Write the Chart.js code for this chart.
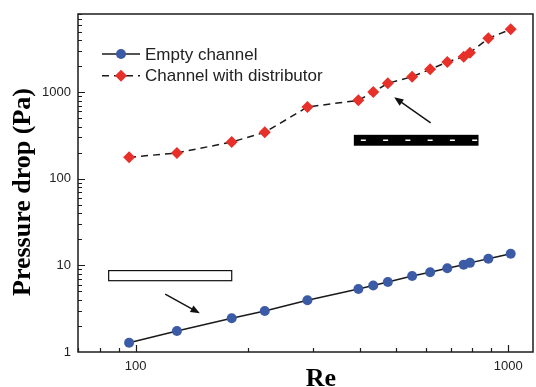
<!DOCTYPE html>
<html>
<head>
<meta charset="utf-8">
<script src="https://cdn.jsdelivr.net/npm/chart.js@4.4.1/dist/chart.umd.min.js"></script>
<style>
  html, body { margin: 0; padding: 0; background: #fff; }
</style>
</head>
<body>
<canvas id="pressureChart" width="536" height="387"></canvas>
<script>
// values
const reynolds = [96, 129, 181, 222, 289, 396, 434, 475, 552, 617, 686, 759, 789, 884, 1015];
const emptyChannel = [1.28, 1.75, 2.45, 2.97, 3.95, 5.34, 5.86, 6.43, 7.54, 8.32, 9.26, 10.2, 10.7, 11.95, 13.65];
const withDistributor = [177, 199, 266, 344, 675, 806, 1005, 1267, 1510, 1838, 2233, 2570, 2857, 4190, 5325];
const seriesNames = ['Empty channel', 'Channel with distributor'];
const xTicks = [100, 1000];
const yTicks = [1, 10, 100, 1000];

// channel sketches + arrows, in data coordinates
const hollowBox = { x: [84.6, 181], y: [6.66, 8.71] };
const solidBox = { x: [385, 832], y: [241, 322] };
const lowerArrow = { from: [120, 4.67], to: [148.6, 2.8] };
const upperArrow = { from: [619, 443], to: [494, 874] };

const AXIS = '#1c1c1c';

function drawArrow(ctx, x1, y1, x2, y2) {
    const ang = Math.atan2(y2 - y1, x2 - x1);
    ctx.beginPath();
    ctx.moveTo(x1, y1);
    ctx.lineTo(x2 - 5 * Math.cos(ang), y2 - 5 * Math.sin(ang));
    ctx.stroke();
    ctx.beginPath();
    ctx.moveTo(x2, y2);
    ctx.lineTo(x2 - 10 * Math.cos(ang - 0.38), y2 - 10 * Math.sin(ang - 0.38));
    ctx.lineTo(x2 - 10 * Math.cos(ang + 0.38), y2 - 10 * Math.sin(ang + 0.38));
    ctx.closePath();
    ctx.fill();
}

const decorations = {
    id: 'decorations',
    afterDraw(chart) {
        const ctx = chart.ctx;
        const area = chart.chartArea;
        const xs = chart.scales.x, ys = chart.scales.y;
        ctx.save();

        // frame
        ctx.strokeStyle = AXIS;
        ctx.lineWidth = 1.5;
        ctx.strokeRect(area.left, area.top, area.right - area.left, area.bottom - area.top);

        // inward ticks
        ctx.lineWidth = 1.2;
        ctx.beginPath();
        for (let d = 10; d <= 1000; d *= 10) {
            for (let m = 1; m <= 9; m++) {
                const v = d * m;
                if (v < xs.min || v > xs.max) continue;
                const px = Math.round(xs.getPixelForValue(v)) + 0.5;
                const len = m === 1 ? 7 : 4;
                ctx.moveTo(px, area.bottom);
                ctx.lineTo(px, area.bottom - len);
            }
        }
        for (let d = 1; d <= 1000; d *= 10) {
            for (let m = 1; m <= 9; m++) {
                const v = d * m;
                if (v <= ys.min || v > ys.max) continue;
                const py = Math.round(ys.getPixelForValue(v)) + 0.5;
                const len = m === 1 ? 7 : 4;
                ctx.moveTo(area.left, py);
                ctx.lineTo(area.left + len, py);
            }
        }
        ctx.stroke();

        // hollow rectangle (empty channel)
        ctx.lineWidth = 1.2;
        ctx.strokeStyle = '#111';
        let l = xs.getPixelForValue(hollowBox.x[0]), r = xs.getPixelForValue(hollowBox.x[1]);
        let t = ys.getPixelForValue(hollowBox.y[1]), b = ys.getPixelForValue(hollowBox.y[0]);
        ctx.fillStyle = '#fff';
        ctx.fillRect(l, t, r - l, b - t);
        ctx.strokeRect(l, t, r - l, b - t);

        // black rectangle with white dashes (channel with distributor)
        l = xs.getPixelForValue(solidBox.x[0]); r = xs.getPixelForValue(solidBox.x[1]);
        t = ys.getPixelForValue(solidBox.y[1]); b = ys.getPixelForValue(solidBox.y[0]);
        ctx.fillStyle = '#000';
        ctx.fillRect(l, t, r - l, b - t);
        ctx.strokeStyle = '#fff';
        ctx.lineWidth = 1.5;
        ctx.beginPath();
        const midY = (t + b) / 2;
        const step = (r - l) / 5.6;
        for (let i = 0; i < 6; i++) {
            const sx = l + 7 + i * step;
            ctx.moveTo(sx, midY);
            ctx.lineTo(Math.min(sx + 5, r - 1), midY);
        }
        ctx.stroke();

        // arrows
        ctx.strokeStyle = '#111';
        ctx.fillStyle = '#111';
        ctx.lineWidth = 1.4;
        [lowerArrow, upperArrow].forEach(a => {
            drawArrow(ctx,
                xs.getPixelForValue(a.from[0]), ys.getPixelForValue(a.from[1]),
                xs.getPixelForValue(a.to[0]), ys.getPixelForValue(a.to[1]));
        });

        // legend
        ctx.font = '17px "Liberation Sans", Arial, sans-serif';
        ctx.textBaseline = 'middle';
        chart.data.datasets.forEach((ds, i) => {
            const y = 54 + i * 21.7;
            ctx.strokeStyle = ds.borderColor;
            ctx.lineWidth = 1.5;
            ctx.setLineDash(ds.borderDash || []);
            ctx.beginPath();
            ctx.moveTo(102, y);
            ctx.lineTo(140, y);
            ctx.stroke();
            ctx.setLineDash([]);
            ctx.fillStyle = ds.pointBackgroundColor;
            ctx.beginPath();
            if (ds.pointStyle === 'rectRot') {
                const rr = ds.pointRadius;
                ctx.moveTo(121 - rr, y); ctx.lineTo(121, y - rr);
                ctx.lineTo(121 + rr, y); ctx.lineTo(121, y + rr);
                ctx.closePath();
            } else {
                ctx.arc(121, y, ds.pointRadius, 0, Math.PI * 2);
            }
            ctx.fill();
            ctx.fillStyle = '#222';
            ctx.fillText(ds.label, 145, y + 1);
        });

        // axis titles
        ctx.fillStyle = '#000';
        ctx.font = 'bold 26px "Liberation Serif", "Times New Roman", serif';
        ctx.textAlign = 'center';
        ctx.textBaseline = 'alphabetic';
        ctx.fillText('Re', 321, 386);
        ctx.translate(30, 192);
        ctx.rotate(-Math.PI / 2);
        ctx.fillText('Pressure drop (Pa)', 0, 0);

        ctx.restore();
    }
};

const ctx = document.getElementById('pressureChart').getContext('2d');
const chart = new Chart(ctx, {
    type: 'line',
    data: {
        datasets: [{
            label: seriesNames[0],
            data: reynolds.map((re, i) => ({ x: re, y: emptyChannel[i] })),
            borderColor: '#1a1a1a',
            borderWidth: 1.5,
            pointStyle: 'circle',
            pointRadius: 5,
            pointBorderWidth: 0,
            pointBackgroundColor: '#3b5ba6',
            tension: 0
        }, {
            label: seriesNames[1],
            data: reynolds.map((re, i) => ({ x: re, y: withDistributor[i] })),
            borderColor: '#1a1a1a',
            borderWidth: 1.5,
            borderDash: [7, 5],
            pointStyle: 'rectRot',
            pointRadius: 6,
            pointBorderWidth: 0,
            pointBackgroundColor: '#e8302a',
            tension: 0
        }]
    },
    options: {
        responsive: false,
        animation: false,
        layout: {
            autoPadding: false,
            padding: { top: 14, right: 3, left: 0, bottom: 0 }
        },
        plugins: {
            legend: { display: false },
            tooltip: { enabled: false }
        },
        scales: {
            x: {
                type: 'logarithmic',
                min: 70,
                max: 1165,
                grid: { display: false, drawTicks: false },
                border: { display: false },
                afterBuildTicks: scale => { scale.ticks = xTicks.map(v => ({ value: v })); },
                afterFit: scale => {
                    scale.height = 35;
                    scale.paddingLeft = 0;
                    scale.paddingRight = 0;
                },
                ticks: {
                    padding: 7,
                    color: '#222',
                    maxRotation: 0,
                    font: { family: '"Liberation Sans", Arial', size: 13 },
                    callback: value => String(value)
                }
            },
            y: {
                type: 'logarithmic',
                min: 1,
                max: 8000,
                grid: { display: false, drawTicks: false },
                border: { display: false },
                afterBuildTicks: scale => { scale.ticks = yTicks.map(v => ({ value: v })); },
                afterFit: scale => {
                    scale.width = 78;
                    scale.paddingTop = 0;
                    scale.paddingBottom = 0;
                },
                ticks: {
                    padding: 7,
                    color: '#222',
                    font: { family: '"Liberation Sans", Arial', size: 13 },
                    callback: value => String(value)
                }
            }
        }
    },
    plugins: [decorations]
});
</script>
</body>
</html>
